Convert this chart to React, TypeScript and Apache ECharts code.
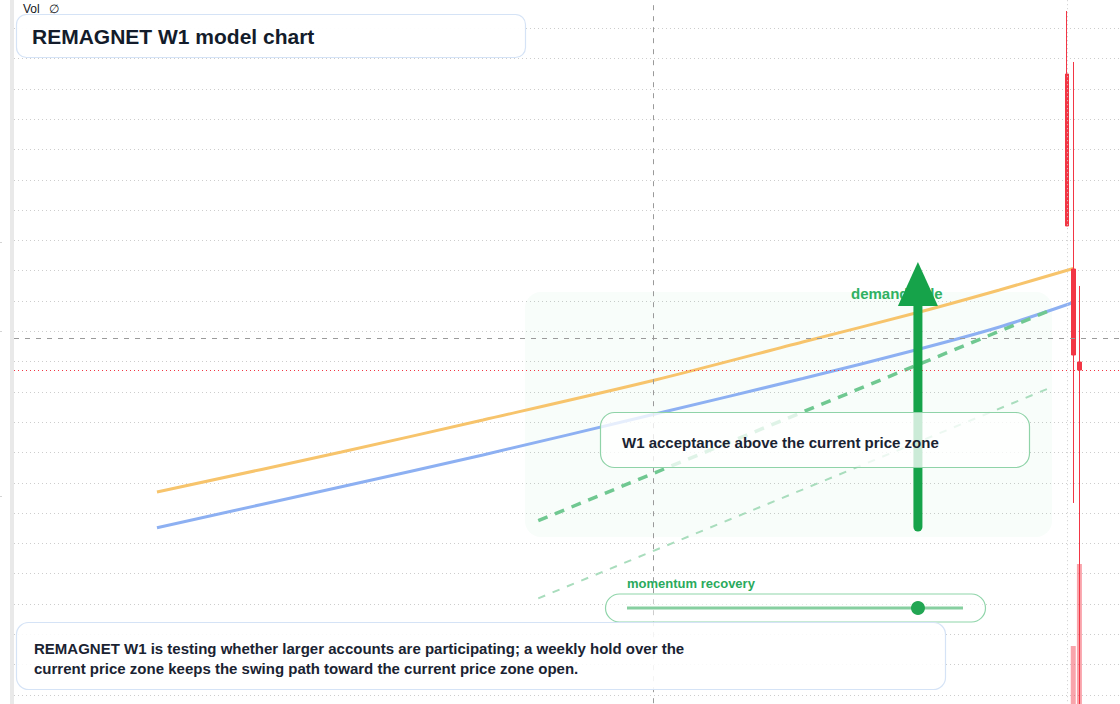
import React, { useEffect, useRef } from "react";
import * as echarts from "echarts";

// ---- price scale (hidden) ----
const priceMin = 20;
const priceMax = 32;
const priceStep = 0.5;

// ---- candles (weekly bars) ----
const candleIdx = [148, 149, 150];
const candleOpen = [30.746, 27.528, 25.993];
const candleClose = [28.238, 26.109, 25.861];
const candleLow = [28.238, 23.667, 20.05];
const candleHigh = [31.785, 30.944, 27.248];
const volumes = [0, 82400, 198900];

// ---- model lines ----
const lineIdx = [0, 30, 53, 81, 105, 124, 137, 149];
const orangeLine = [23.848, 24.508, 25.036, 25.696, 26.323, 26.818, 27.182, 27.536];
const blueLine = [23.259, 23.936, 24.46, 25.135, 25.721, 26.208, 26.571, 26.975];

// ---- projected paths ----
const pathIdx = [62, 145];
const pathMain = [23.375, 26.835];
const pathAlt = [22.094, 25.559];

// ---- demand arrow ----
const arrowIdx = 123.74;
const arrowFrom = 23.271;
const arrowTo = 27.017;
const arrowHead = 27.281;

// ---- guides ----
const crossIdx = 80.7;
const crossPrice = 26.39;
const verticalGridIdx = 148;
const momentumScore = 0.866;

const FONT = '"Liberation Sans", Arial, sans-serif';

export default function App() {
  const ref = useRef<HTMLDivElement>(null);

  useEffect(() => {
    if (!ref.current) return;
    const chart = echarts.init(ref.current, undefined, { renderer: "svg" });
    const lastClose = candleClose[candleClose.length - 1];

    const trackX1 = 627;
    const trackX2 = 963;

    const option: any = {
      animation: false,
      backgroundColor: "#ffffff",
      grid: [
        { left: 14, width: 1106, top: -2, height: 727.2, containLabel: false, outerBoundsMode: "none" },
        { left: 14, width: 1106, top: 0, height: 704, containLabel: false, outerBoundsMode: "none" },
      ],
      xAxis: [
        { type: "value", gridIndex: 0, min: -23.25, max: 156.6, show: false },
        { type: "value", gridIndex: 1, min: -23.25, max: 156.6, show: false },
      ],
      yAxis: [
        {
          type: "value",
          gridIndex: 0,
          min: priceMin,
          max: priceMax,
          interval: priceStep,
          axisLine: { show: false },
          axisTick: { show: false },
          axisLabel: { show: false },
          splitLine: { show: true, lineStyle: { color: "#cdcdcd", width: 1, type: [1, 3] } },
        },
        { type: "value", gridIndex: 1, min: 0, max: 1000000, show: false },
      ],
      series: [
        {
          type: "bar",
          xAxisIndex: 1,
          yAxisIndex: 1,
          barWidth: 5,
          silent: true,
          z: 1,
          itemStyle: { color: "rgba(242,54,69,0.45)" },
          data: candleIdx.map((x, i) => [x, volumes[i]]),
        },
        {
          type: "line",
          xAxisIndex: 0,
          yAxisIndex: 0,
          symbol: "none",
          silent: true,
          smooth: 0.3,
          z: 2,
          lineStyle: { color: "#f7c46c", width: 3 },
          data: lineIdx.map((x, i) => [x, orangeLine[i]]),
          markLine: {
            silent: true,
            symbol: ["none", "none"],
            label: { show: false },
            emphasis: { disabled: true },
            data: [
              { xAxis: verticalGridIdx, lineStyle: { color: "#cdcdcd", width: 1, type: [1, 3] } },
              { xAxis: crossIdx, lineStyle: { color: "#9a9a9a", width: 1, type: [5, 6] } },
              { yAxis: crossPrice, lineStyle: { color: "#9a9a9a", width: 1, type: [5, 6] } },
              { yAxis: lastClose, lineStyle: { color: "#f23645", width: 1, type: [1, 3] } },
            ],
          },
        },
        {
          type: "line",
          symbol: "none",
          silent: true,
          smooth: 0.3,
          z: 2,
          lineStyle: { color: "#8db0f2", width: 3 },
          data: lineIdx.map((x, i) => [x, blueLine[i]]),
        },
        {
          type: "line",
          symbol: "none",
          silent: true,
          z: 2,
          lineStyle: { color: "#70c891", width: 3.5, type: [10, 8] },
          data: pathIdx.map((x, i) => [x, pathMain[i]]),
        },
        {
          type: "line",
          symbol: "none",
          silent: true,
          z: 2,
          lineStyle: { color: "#a9ddbd", width: 2, type: [7.5, 8] },
          data: pathIdx.map((x, i) => [x, pathAlt[i]]),
        },
        {
          type: "candlestick",
          xAxisIndex: 0,
          yAxisIndex: 0,
          barWidth: 4,
          silent: true,
          z: 3,
          encode: { x: 0, y: [1, 2, 3, 4] },
          itemStyle: {
            color: "#089981",
            color0: "#f23645",
            borderColor: "#089981",
            borderColor0: "#f23645",
            borderWidth: 1,
          },
          data: candleIdx.map((x, i) => [x, candleOpen[i], candleClose[i], candleLow[i], candleHigh[i]]),
        },
        {
          type: "line",
          symbol: "none",
          silent: true,
          z: 5,
          lineStyle: { color: "#16a34a", width: 9, cap: "round" },
          data: [
            [arrowIdx, arrowFrom],
            [arrowIdx, arrowTo],
          ],
        },
        {
          type: "scatter",
          silent: true,
          z: 5,
          symbol: "triangle",
          symbolSize: [40, 44],
          itemStyle: { color: "#16a34a", opacity: 1 },
          data: [[arrowIdx, arrowHead]],
        },
      ],
      graphic: {
        elements: [
          { type: "rect", z: 1, silent: true, shape: { x: 10, y: 0, width: 4, height: 704 }, style: { fill: "#e9e9e9" } },
          { type: "rect", z: 1, silent: true, shape: { x: 0, y: 242, width: 2, height: 1 }, style: { fill: "#d4d4d4" } },
          { type: "rect", z: 1, silent: true, shape: { x: 0, y: 331, width: 2, height: 1 }, style: { fill: "#d4d4d4" } },
          { type: "rect", z: 1, silent: true, shape: { x: 0, y: 496, width: 2, height: 1 }, style: { fill: "#d4d4d4" } },
          {
            type: "rect",
            z: 1,
            silent: true,
            shape: { x: 525, y: 292, width: 527, height: 245, r: 16 },
            style: { fill: "rgba(34,197,94,0.03)" },
          },
          {
            type: "text",
            z: 4,
            silent: true,
            x: 851,
            y: 293,
            style: { text: "demand side", fill: "#2fb163", fontSize: 15, fontWeight: "bold", fontFamily: FONT, verticalAlign: "middle" },
          },
          {
            type: "rect",
            z: 10,
            silent: true,
            shape: { x: 600.5, y: 412.5, width: 429, height: 55, r: 14 },
            style: { fill: "rgba(255,255,255,0.78)", stroke: "#8fd3a8", lineWidth: 1.2 },
          },
          {
            type: "text",
            z: 11,
            silent: true,
            x: 622,
            y: 442,
            style: { text: "W1 acceptance above the current price zone", fill: "#1a2332", fontSize: 15, fontWeight: "bold", fontFamily: FONT, verticalAlign: "middle" },
          },
          {
            type: "text",
            z: 11,
            silent: true,
            x: 627,
            y: 583.5,
            style: { text: "momentum recovery", fill: "#2aaa5c", fontSize: 13, fontWeight: "bold", fontFamily: FONT, verticalAlign: "middle" },
          },
          {
            type: "rect",
            z: 10,
            silent: true,
            shape: { x: 605.5, y: 594, width: 380, height: 28, r: 14 },
            style: { fill: "rgba(255,255,255,0.5)", stroke: "#90d5aa", lineWidth: 1.2 },
          },
          {
            type: "line",
            z: 11,
            silent: true,
            shape: { x1: trackX1, y1: 608, x2: trackX2, y2: 608 },
            style: { stroke: "#86cfa0", lineWidth: 3 },
          },
          {
            type: "circle",
            z: 12,
            silent: true,
            shape: { cx: trackX1 + (trackX2 - trackX1) * momentumScore, cy: 608, r: 7 },
            style: { fill: "#22a653" },
          },
          {
            type: "rect",
            z: 10,
            silent: true,
            shape: { x: 16.5, y: 14.5, width: 509, height: 43, r: 10 },
            style: { fill: "rgba(255,255,255,0.95)", stroke: "#d5e3f6", lineWidth: 1.2 },
          },
          {
            type: "text",
            z: 11,
            silent: true,
            x: 32,
            y: 36,
            style: { text: "REMAGNET W1 model chart", fill: "#131c2b", fontSize: 21, fontWeight: "bold", fontFamily: FONT, verticalAlign: "middle" },
          },
          {
            type: "rect",
            z: 10,
            silent: true,
            shape: { x: 16.5, y: 622.5, width: 929, height: 67, r: 12 },
            style: { fill: "rgba(255,255,255,0.88)", stroke: "#d5e3f6", lineWidth: 1.2 },
          },
          {
            type: "text",
            z: 11,
            silent: true,
            x: 34,
            y: 648.3,
            style: {
              text: "REMAGNET W1 is testing whether larger accounts are participating; a weekly hold over the",
              fill: "#1a2332",
              fontSize: 15,
              fontWeight: "bold",
              fontFamily: FONT,
              verticalAlign: "middle",
            },
          },
          {
            type: "text",
            z: 11,
            silent: true,
            x: 34,
            y: 668.3,
            style: {
              text: "current price zone keeps the swing path toward the current price zone open.",
              fill: "#1a2332",
              fontSize: 15,
              fontWeight: "bold",
              fontFamily: FONT,
              verticalAlign: "middle",
            },
          },
          {
            type: "text",
            z: 11,
            silent: true,
            x: 23,
            y: 8.5,
            style: { text: "Vol", fill: "#131722", fontSize: 12, fontFamily: FONT, verticalAlign: "middle" },
          },
          {
            type: "text",
            z: 11,
            silent: true,
            x: 49,
            y: 8.5,
            style: { text: "∅", fill: "#131722", fontSize: 12, fontFamily: FONT, verticalAlign: "middle" },
          },
        ],
      },
    };

    chart.setOption(option);
    return () => chart.dispose();
  }, []);

  return (
    <div
      ref={ref}
      style={{ position: "fixed", left: 0, top: 0, width: 1120, height: 704, background: "#ffffff" }}
    />
  );
}
